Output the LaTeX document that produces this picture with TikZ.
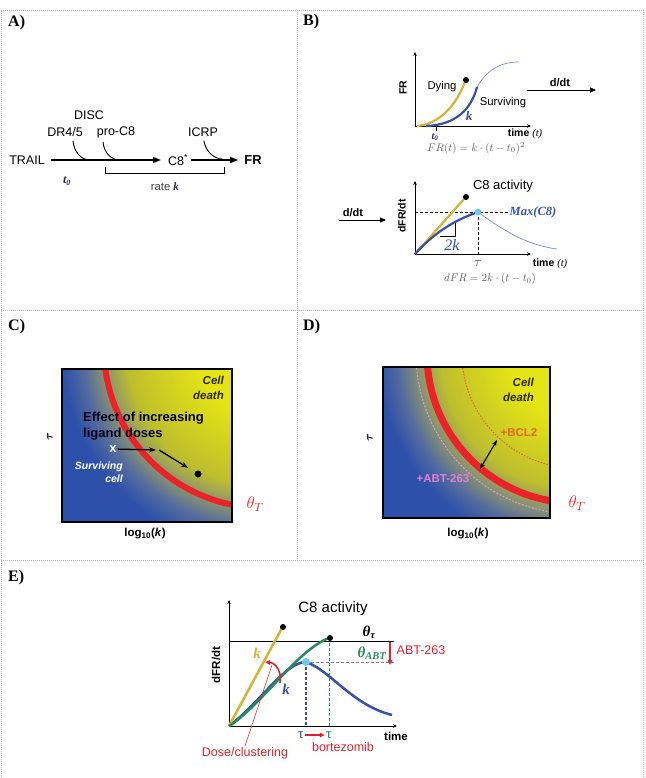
\documentclass[tikz,border=0pt]{standalone}
\usepackage{fix-cm}
\usepackage{amsmath}
\usepackage[no-math]{fontspec}
\setmainfont{Liberation Serif}
\setsansfont{Liberation Sans}
\usetikzlibrary{arrows.meta}

\definecolor{navyink}{RGB}{40,40,100}
\definecolor{curvegold}{RGB}{212,180,50}
\definecolor{curveblue}{RGB}{55,80,170}
\definecolor{thinblue}{RGB}{125,135,210}
\definecolor{peakcyan}{RGB}{110,205,230}
\definecolor{formgray}{RGB}{95,95,95}
\definecolor{mapblue}{RGB}{45,80,170}
\definecolor{mapslate}{RGB}{85,108,158}
\definecolor{mapgray}{RGB}{135,145,115}
\definecolor{mapolive}{RGB}{190,190,45}
\definecolor{mapyellow}{RGB}{228,228,20}
\definecolor{thetared}{RGB}{235,35,40}
\definecolor{bclorange}{RGB}{225,105,30}
\definecolor{abtpink}{RGB}{220,130,210}
\definecolor{boundgreen}{RGB}{40,140,90}
\definecolor{drugred}{RGB}{220,35,45}
\definecolor{deathink}{RGB}{45,40,10}

% 25bp of the shading is the radius of the shaded circle
\pgfdeclareradialshading{deathmap}{\pgfpoint{0bp}{0bp}}{color(0bp)=(mapyellow); color(6.5bp)=(mapyellow); color(13.2bp)=(mapolive); color(15.6bp)=(mapgray); color(17.4bp)=(mapslate); color(19.5bp)=(mapblue); color(50bp)=(mapblue)}

\begin{document}
\begin{tikzpicture}[x=1pt, y=-1pt,
        panel/.style = {anchor=west, inner sep=0pt, font=\rmfamily\bfseries\fontsize{16}{18}\selectfont},
        lbl/.style = {inner sep=1pt, font=\sffamily\fontsize{12.5}{15}\selectfont},
        small/.style = {inner sep=1pt, font=\sffamily\fontsize{11.3}{13}\selectfont},
        axlbl/.style = {inner sep=1pt, font=\sffamily\bfseries\fontsize{10.5}{12}\selectfont},
        maplbl/.style = {inner sep=1pt, font=\sffamily\bfseries\itshape\fontsize{11.5}{14.5}\selectfont, align=right},
        rate/.style = {inner sep=1pt, font=\rmfamily\bfseries\itshape\fontsize{13}{15}\selectfont},
        formula/.style = {inner sep=1pt, text=formgray, font=\fontsize{11}{13}\selectfont},
        cellgrid/.style = {draw=gray!60, dash pattern=on 1pt off 1pt, line width=0.8pt},
        arrow/.style = {-{Triangle[length=8pt, width=6pt]}, line width=1.3pt},
        ddt/.style = {-{Triangle[length=6pt, width=5pt]}, line width=0.9pt},
        feed/.style = {line width=0.9pt},
        axisline/.style = {-{Stealth[length=4pt, width=3.5pt]}, line width=0.7pt},
        mapbox/.style = {draw=black, line width=2pt},
        maparrow/.style = {-{Stealth[length=7pt, width=5pt]}, line width=1.3pt},
        threshold/.style = {draw=thetared, line width=6pt},
        dying/.style = {draw=curvegold, line width=2.2pt},
        surv/.style = {draw=curveblue, line width=2.2pt},
        survthin/.style = {draw=thinblue, line width=0.7pt},
        guide/.style = {dash pattern=on 3pt off 2pt, line width=0.7pt},
        drugarrow/.style = {draw=drugred, -{Triangle[length=5pt, width=4.5pt]}, line width=1.6pt},
        dot/.style = {circle, fill=black, inner sep=0pt, minimum size=6pt}
    ]

    \useasboundingbox (0,0) rectangle (645,778);

    % table frame
    \draw[cellgrid] (1,778) -- (1,10) -- (643,10) -- (643,778);
    \draw[cellgrid] (1,310) -- (643,310);
    \draw[cellgrid] (1,560) -- (643,560);
    \draw[cellgrid] (297,10) -- (297,560);

    % A) pathway
    \node[panel] (la) at (8,23) {A)};
    \node[lbl] (trail) at (27,160) {TRAIL};
    \node[lbl] (c8) at (178,160) {C8\textsuperscript{*}};
    \node[lbl, font=\sffamily\bfseries\fontsize{13}{15}\selectfont] (fr) at (253,160) {FR};
    \node[lbl] (disc) at (89,115) {DISC};
    \node[lbl] (dr) at (65,132) {DR4/5};
    \node[lbl] (pro) at (116,132) {pro-C8};
    \node[lbl] (icrp) at (203,132) {ICRP};
    \draw[arrow, shorten <=5pt, shorten >=6pt] (trail) -- (c8);
    \draw[arrow, shorten <=2pt, shorten >=5pt] (c8) -- (fr);
    \coordinate (jdr) at (90,160);
    \coordinate (jpro) at (120,160);
    \coordinate (jicrp) at (222,159);
    \draw[feed] ([xshift=8pt,yshift=-3pt]dr.south) .. controls +(1,11) and +(-9,0) .. (jdr);
    \draw[feed] ([xshift=-13pt,yshift=-3pt]pro.south) .. controls +(1,11) and +(-9,0) .. (jpro);
    \draw[feed] ([xshift=1pt,yshift=-3pt]icrp.south) .. controls +(1,10) and +(-8,0) .. (jicrp);
    \node[rate, text=navyink, font=\rmfamily\bfseries\itshape\fontsize{12}{14}\selectfont] (tzero) at (67,181) {t\textsubscript{0}};
    \draw[line width=0.7pt] (105,167) -- (105,173) -- (224,173) -- (224,167);
    \node[small, text=black!75] (rate) at (165,187) {rate \textcolor{navyink}{\rmfamily\bfseries\itshape k}};

    % B) fraction of cleaved substrate
    \node[panel] (lb) at (303,22) {B)};
    \draw[axisline] (415,126) -- (415,52);
    \draw[axisline] (415,126) -- (531,126);
    \draw[line width=0.7pt] (436,126) -- (436,131);
    \draw[survthin] (477,87) .. controls (487,70) and (500,62) .. (519,62);
    \draw[dying] (417,126) .. controls (440,124) and (456,105) .. (465,82);
    \draw[surv] (426,126) .. controls (455,125) and (471,110) .. (477,87);
    \node[dot] (dyend) at (466,80) {};
    \node[axlbl, rotate=90] (frax) at (403,88) {FR};
    \node[small] (dying) at (442,87) {Dying};
    \node[small] (surviving) at (503,103) {Surviving};
    \node[rate, text=curveblue] (kb) at (469,116) {k};
    \node[rate, text=navyink, font=\rmfamily\bfseries\itshape\fontsize{10}{12}\selectfont] (tzerob) at (435,137) {t\textsubscript{0}};
    \node[axlbl] (timeb) at (525,134) {time \textmd{\rmfamily\itshape(t)}};
    \node[formula] (frform) at (476,148) {$FR(t) = k\cdot(t-t_0)^2$};
    \node[axlbl, font=\sffamily\bfseries\fontsize{11}{13}\selectfont] (ddta) at (560,83) {d/dt};
    \coordinate (ddtas) at (527,90);
    \coordinate (ddtae) at (596,90);
    \draw[ddt] (ddtas) -- (ddtae);

    % B) C8 activity
    \draw[axisline] (415,254) -- (415,181);
    \draw[axisline] (415,254) -- (531,254);
    \draw[guide] (415,212) -- (509,212);
    \draw[guide] (478,212) -- (478,254);
    \draw[line width=0.7pt] (440,236) -- (455,236) -- (455,221);
    \draw[survthin] (478,212) .. controls (500,228) and (525,245) .. (557,249);
    \draw[dying] (415,254) -- (464,199);
    \draw[surv] (415,254) .. controls (435,232) and (455,220) .. (478,212);
    \node[dot] (dyendb) at (466,197) {};
    \node[circle, fill=peakcyan, inner sep=0pt, minimum size=7pt] (peakb) at (478,212) {};
    \node[lbl, font=\sffamily\fontsize{13}{15}\selectfont] (c8act) at (503,186) {C8 activity};
    \node[axlbl, rotate=90] (dfrax) at (402,216) {dFR/dt};
    \node[rate, text=curveblue, font=\rmfamily\bfseries\itshape\fontsize{12.5}{14}\selectfont] (maxc8) at (533,212) {Max(C8)};
    \node[rate, text=curveblue, font=\rmfamily\itshape\fontsize{16}{18}\selectfont] (twok) at (452,245) {2k};
    \node[inner sep=0pt, text=curveblue, font=\fontsize{14}{16}\selectfont] (taub1) at (478,263) {$\tau$};
    \node[axlbl] (timeb2) at (550,264) {time \textmd{\rmfamily\itshape(t)}};
    \node[formula] (dfrform) at (490,279) {$dFR = 2k\cdot(t-t_0)$};
    \node[axlbl, font=\sffamily\bfseries\fontsize{11}{13}\selectfont] (ddtb) at (353,213) {d/dt};
    \coordinate (ddtbs) at (339,220);
    \coordinate (ddtbe) at (386,220);
    \draw[ddt] (ddtbs) -- (ddtbe);

    % C) death map
    \node[panel] (lc) at (8,327) {C)};
    \begin{scope}
        \clip (62,369) rectangle (232,522);
        \fill[mapblue] (62,369) rectangle (232,522);
        \shade[shading=deathmap] (264,348) circle[radius=260];
        \draw[threshold] (264,348) ++(185:160) arc[start angle=185, end angle=95, radius=160];
    \end{scope}
    \draw[mapbox] (62,369) rectangle (232,522);
    \node[maplbl, anchor=east, text=deathink] (deathc) at (225,388) {Cell\\death};
    \node[inner sep=1pt, anchor=west, align=left, text=black!90!blue, font=\sffamily\bfseries\fontsize{13}{16}\selectfont] (effect) at (82,426) {Effect of increasing\\ligand doses};
    \node[inner sep=1pt, text=white, font=\sffamily\bfseries\fontsize{13}{15}\selectfont] (xmark) at (113,449) {x};
    \node[maplbl, anchor=east, text=white, font=\sffamily\bfseries\itshape\fontsize{10.5}{12.5}\selectfont] (survc) at (124,472) {Surviving\\cell};
    \coordinate (kink) at (156,450);
    \node[dot, minimum size=7pt] (celldot) at (198,474) {};
    \draw[maparrow] (xmark) -- (kink);
    \draw[maparrow, shorten >=8pt] ([xshift=3pt]kink) -- (celldot);
    \node[inner sep=0pt, rotate=90, font=\fontsize{12}{14}\selectfont] (tauc) at (50,437) {$\boldsymbol{\tau}$};
    \node[inner sep=0pt, text=thetared, font=\fontsize{17}{19}\selectfont] (thetac) at (255,504) {$\theta_T$};
    \node[axlbl, font=\sffamily\bfseries\fontsize{11.5}{13}\selectfont] (logc) at (145,534) {log\textsubscript{10}(\textit{k})};

    % D) shifted thresholds
    \node[panel] (ld) at (303,327) {D)};
    \begin{scope}
        \clip (383,367) rectangle (550,518);
        \fill[mapblue] (383,367) rectangle (550,518);
        \shade[shading=deathmap] (576,354) circle[radius=255];
        \draw[draw=abtpink!80!white, dash pattern=on 2pt off 1.5pt, line width=0.9pt] (576,354) ++(185:160) arc[start angle=185, end angle=90, radius=160];
        \draw[draw=bclorange, dash pattern=on 1.5pt off 1.5pt, line width=1pt] (576,354) ++(185:114) arc[start angle=185, end angle=90, radius=114];
        \draw[threshold, line width=7pt] (576,354) ++(185:149) arc[start angle=185, end angle=90, radius=149];
    \end{scope}
    \draw[mapbox] (383,367) rectangle (550,518);
    \node[maplbl, anchor=east, text=deathink] (deathd) at (535,390) {Cell\\death};
    \node[inner sep=1pt, text=bclorange, font=\sffamily\bfseries\fontsize{11.5}{13}\selectfont] (bcl) at (519,433) {+BCL2};
    \node[inner sep=1pt, text=abtpink, font=\sffamily\bfseries\fontsize{11.5}{13}\selectfont] (abtd) at (443,479) {+ABT-263};
    \coordinate (abtend) at (480,469);
    \coordinate (bclend) at (497,440);
    \draw[{Stealth[length=6pt, width=4.5pt]}-{Stealth[length=6pt, width=4.5pt]}, line width=1.1pt] (abtend) -- (bclend);
    \node[inner sep=0pt, rotate=90, font=\fontsize{12}{14}\selectfont] (taud) at (370,438) {$\boldsymbol{\tau}$};
    \node[inner sep=0pt, text=thetared, font=\fontsize{17}{19}\selectfont] (thetad) at (577,503) {$\theta_T$};
    \node[axlbl, font=\sffamily\bfseries\fontsize{11.5}{13}\selectfont] (logd) at (468,534) {log\textsubscript{10}(\textit{k})};

    % E) drug effects on C8 activity
    \node[panel] (le) at (8,578) {E)};
    \draw[axisline] (229,726) -- (229,600);
    \draw[axisline] (229,726) -- (397,726);
    \draw[line width=0.8pt] (229,641) -- (394,641);
    \draw[guide, draw=gray] (306,662) -- (394,662);
    \draw[guide, draw=curveblue, line width=1.1pt] (306,662) -- (306,726);
    \draw[guide, draw=boundgreen, line width=0.6pt] (329,638) -- (329,726);
    \draw[surv, line width=2.5pt] (229,726) .. controls (260,703) and (285,662) .. (306,662);
    \draw[surv, line width=2.5pt] (306,662) .. controls (330,670) and (352,705) .. (392,715);
    \draw[dying, line width=2.5pt] (229,726) -- (282,628);
    \draw[draw=boundgreen, line width=2.5pt] (229,726) .. controls (262,705) and (297,650) .. (329,638);
    \node[dot] (dyende) at (283,627) {};
    \node[dot] (greenend) at (330,638) {};
    \node[circle, fill=peakcyan, inner sep=0pt, minimum size=8pt] (peake) at (306,662) {};
    \node[lbl, font=\sffamily\fontsize{15}{17}\selectfont] (c8e) at (333,609) {C8 activity};
    \node[axlbl, font=\sffamily\bfseries\fontsize{11.5}{13}\selectfont, rotate=90] (dfre) at (216,665) {dFR/dt};
    \node[rate, font=\rmfamily\bfseries\itshape\fontsize{15}{17}\selectfont] (thtau) at (369,632) {θ\textsubscript{τ}};
    \node[rate, text=boundgreen, font=\rmfamily\bfseries\itshape\fontsize{15}{17}\selectfont] (thabt) at (372,653) {θ\textsubscript{ABT}};
    \coordinate (abttop) at (390,642);
    \coordinate (abtbot) at (390,665);
    \draw[drugarrow] (abttop) -- (abtbot);
    \node[lbl, text=drugred] (abte) at (421,650) {ABT-263};
    \node[rate, text=curvegold, font=\rmfamily\bfseries\itshape\fontsize{15}{17}\selectfont] (kgold) at (257,653) {k};
    \node[rate, text=curveblue, font=\rmfamily\bfseries\itshape\fontsize{15}{17}\selectfont] (kblue) at (286,689) {k};
    \coordinate (kfrom) at (280,683);
    \coordinate (kto) at (265,662);
    \draw[drugarrow] (kfrom) .. controls (282,672) and (276,663) .. (kto);
    \node[inner sep=1pt, text=curveblue, font=\rmfamily\fontsize{15}{17}\selectfont] (taue1) at (301,735) {τ};
    \node[inner sep=1pt, text=boundgreen, font=\rmfamily\fontsize{15}{17}\selectfont] (taue2) at (329,735) {τ};
    \draw[drugarrow] (taue1) -- (taue2);
    \node[lbl, text=drugred] (bort) at (343,747) {bortezomib};
    \node[lbl, text=drugred] (dose) at (245,753) {Dose/clustering};
    \coordinate (dosetip) at (272,665);
    \draw[draw=drugred, line width=0.5pt] (dose.north) -- (dosetip);
    \node[axlbl, font=\sffamily\bfseries\fontsize{11.5}{13}\selectfont] (timee) at (396,736) {time};

\end{tikzpicture}
\end{document}
